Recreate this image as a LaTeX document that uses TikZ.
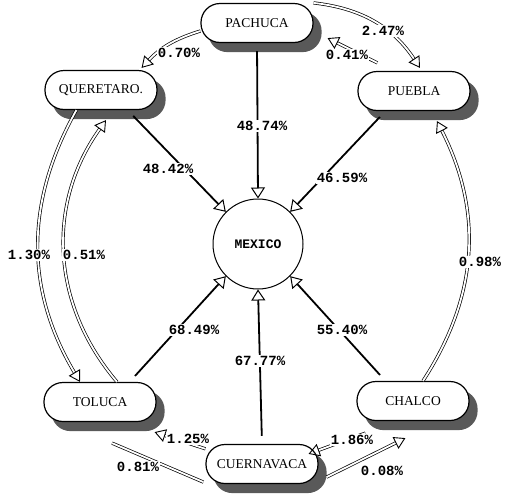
\documentclass[tikz,border=0pt]{standalone}
\usepackage{fontspec}
\setmainfont{Liberation Serif}
\setmonofont{Liberation Mono}
\usetikzlibrary{arrows.meta,backgrounds}

\tikzset{
  city/.style={draw, line width=1.2pt, rounded corners=19pt, minimum height=39pt,
    minimum width=112pt, fill=white, font=\fontsize{13.5}{14}\selectfont},
  cityshadow/.style={fill=black!65, rounded corners=19pt},
  hub/.style={draw, circle, line width=1pt, minimum size=90pt, fill=white,
    font=\ttfamily\bfseries\fontsize{13}{13}\selectfont},
  pct/.style={font=\ttfamily\bfseries\fontsize{14}{14}\selectfont, fill=white, inner sep=1pt},
  link/.style={double, double distance=1.8pt, line width=0.7pt},
  flow/.style={link, -{Triangle[open, length=11pt, width=13pt, line width=0.9pt]}},
  tomex/.style={line width=1.8pt, shorten <=8pt,
    -{Triangle[open, length=11pt, width=14pt, line width=1pt]}},
}

\begin{document}
\begin{tikzpicture}[x=1pt, y=-1pt]
\useasboundingbox (0,0) rectangle (507,496);

% cities
\node[city] (pachuca) at (257,23) {PACHUCA};
\node[city] (queretaro) at (101,90) {QUERETARO.};
\node[city] (puebla) at (414,91) {PUEBLA};
\node[city] (toluca) at (100,402) {TOLUCA};
\node[city] (chalco) at (413,401) {CHALCO};
\node[city] (cuernavaca) at (262,464) {CUERNAVACA};
\node[hub] (mexico) at (258,244) {MEXICO};

% shadows
\begin{scope}[on background layer]
  \foreach \c in {pachuca,queretaro,puebla,toluca,chalco,cuernavaca}
    \fill[cityshadow] ([xshift=8pt,yshift=-9pt]\c.north west) rectangle ([xshift=8pt,yshift=-9pt]\c.south east);
\end{scope}

% flows into Mexico
\draw[tomex] (pachuca.south) -- (mexico.north);
\draw[tomex] ([xshift=-30pt]queretaro.south east) -- (mexico.135);
\draw[tomex] ([xshift=28pt]puebla.south west) -- (mexico.45);
\draw[tomex] ([xshift=-27pt]toluca.north east) -- (mexico.225);
\draw[tomex] ([xshift=29pt]chalco.north west) -- (mexico.315);
\draw[tomex] (cuernavaca.north) -- (mexico.south);

% flows between cities
\draw[flow] ([yshift=-8pt]pachuca.west) to[bend right=15] ([xshift=-16pt,yshift=2pt]queretaro.north east);
\draw[flow] (pachuca.north east) to[bend left=25] ([xshift=6pt,yshift=3pt]puebla.north);
\draw[flow] ([xshift=20pt,yshift=8pt]puebla.north west) -- ([xshift=14pt,yshift=5pt]pachuca.south east);
\draw[flow] ([xshift=32pt]queretaro.south west) to[bend right=30] ([xshift=-20pt]toluca.north);
\draw[flow] ([xshift=17pt]toluca.north) to[bend left=38] ([xshift=5pt,yshift=-10pt]queretaro.south);
\draw[flow] ([xshift=10pt]chalco.north) to[bend right=30] ([xshift=23pt,yshift=-10pt]puebla.south);
\draw[flow] (cuernavaca.165) -- ([xshift=-2pt,yshift=-10pt]toluca.south east);
\draw[link] ([xshift=12pt,yshift=-21pt]toluca.south) -- ([xshift=-2pt,yshift=2pt]cuernavaca.south west);
\draw[flow] ([xshift=9pt,yshift=-12pt]chalco.south west) -- ([xshift=-10pt,yshift=-10pt]cuernavaca.north east);
\draw[flow] ([xshift=8pt,yshift=7pt]cuernavaca.south east) -- ([xshift=49pt,yshift=-17pt]chalco.south west);

% percentages
\node[pct] (p070) at (179,53) {0.70\%};
\node[pct] (p247) at (383,31) {2.47\%};
\node[pct] (p041) at (347,55) {0.41\%};
\node[pct] (p4874) at (262,126) {48.74\%};
\node[pct] (p4842) at (168,169) {48.42\%};
\node[pct] (p4659) at (342,178) {46.59\%};
\node[pct] (p130) at (29,255) {1.30\%};
\node[pct] (p051) at (84,255) {0.51\%};
\node[pct] (p098) at (480,262) {0.98\%};
\node[pct] (p6849) at (194,330) {68.49\%};
\node[pct] (p5540) at (342,330) {55.40\%};
\node[pct] (p6777) at (260,361) {67.77\%};
\node[pct] (p125) at (188,439) {1.25\%};
\node[pct] (p186) at (352,440) {1.86\%};
\node[pct] (p081) at (138,467) {0.81\%};
\node[pct] (p008) at (382,471) {0.08\%};
\end{tikzpicture}
\end{document}
